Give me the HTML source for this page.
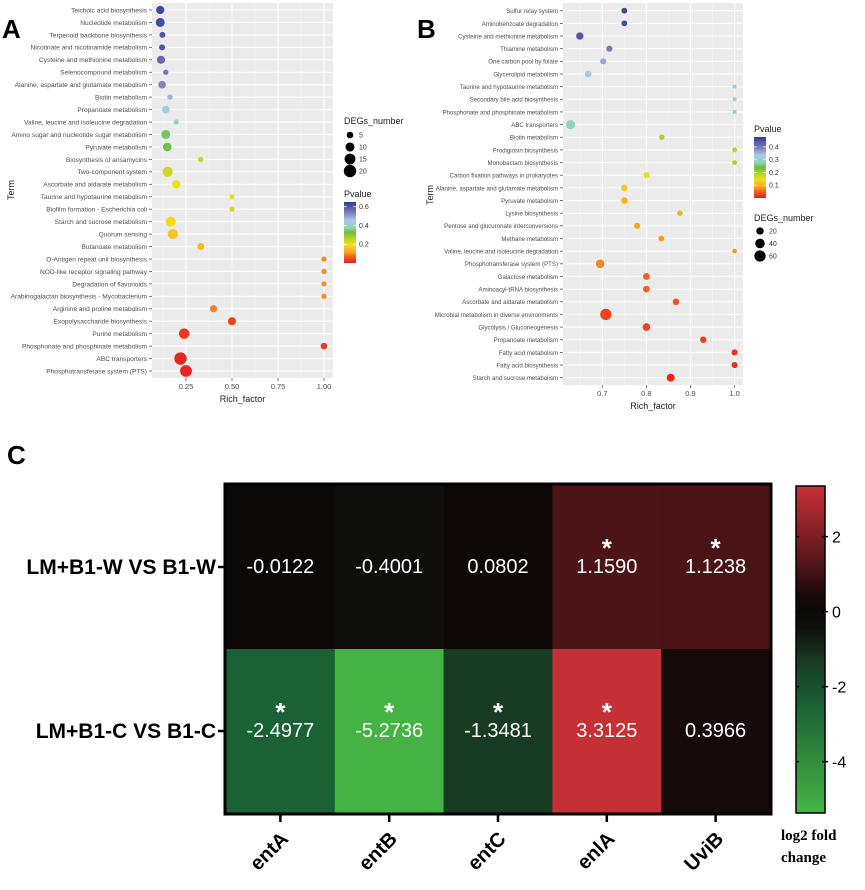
<!DOCTYPE html>
<html><head><meta charset="utf-8">
<style>
html,body{margin:0;padding:0;background:#fff;}
svg{display:block;font-family:"Liberation Sans",Arial,sans-serif;}
</style></head>
<body>
<svg id="fig" width="865" height="890" viewBox="0 0 865 890">
<text x="2" y="38" font-size="26" font-weight="bold">A</text>
<text x="417" y="38" font-size="26" font-weight="bold">B</text>
<text x="7" y="464" font-size="26" font-weight="bold">C</text>
<g id="pa"></g>
<g id="pb"></g>
<g id="pc"></g>
</svg>
<script>
const termsA=["Teichoic acid biosynthesis","Nucleotide metabolism","Terpenoid backbone biosynthesis","Nicotinate and nicotinamide metabolism","Cysteine and methionine metabolism","Selenocompound metabolism","Alanine, aspartate and glutamate metabolism","Biotin metabolism","Propanoate metabolism","Valine, leucine and isoleucine degradation","Amino sugar and nucleotide sugar metabolism","Pyruvate metabolism","Biosynthesis of ansamycins","Two-component system","Ascorbate and aldarate metabolism","Taurine and hypotaurine metabolism","Biofilm formation - Escherichia coli","Starch and sucrose metabolism","Quorum sensing","Butanoate metabolism","O-Antigen repeat unit biosynthesis","NOD-like receptor signaling pathway","Degradation of flavonoids","Arabinogalactan biosynthesis - Mycobacterium","Arginine and proline metabolism","Exopolysaccharide biosynthesis","Purine metabolism","Phosphonate and phosphinate metabolism","ABC transporters","Phosphotransferase system (PTS)"];
const richA=[0.11,0.11,0.122,0.12,0.114,0.14,0.12,0.163,0.14,0.197,0.14,0.148,0.33,0.15,0.197,0.5,0.5,0.167,0.178,0.33,1,1,1,1,0.4,0.5,0.24,1,0.22,0.25];
const pA=[0.63,0.62,0.6,0.6,0.57,0.55,0.53,0.48,0.44,0.38,0.34,0.33,0.24,0.23,0.2,0.2,0.22,0.19,0.16,0.15,0.1,0.1,0.1,0.1,0.09,0.04,0.03,0.03,0.01,0.01];
const degA=[8,10,4,4,8,3,7,3,7,3,10,9,3,13,9,3,3,13,13,6,3,3,3,3,6,8,14,5,20,18];
const ticksA=[0.25,0.5,0.75,1.0];
const tickLabA=["0.25","0.50","0.75","1.00"];
const pLegA=[0.6,0.4,0.2];
const sizeLegA=[5,10,15,20];

const termsB=["Sulfur relay system","Aminobenzoate degradation","Cysteine and methionine metabolism","Thiamine metabolism","One carbon pool by folate","Glycerolipid metabolism","Taurine and hypotaurine metabolism","Secondary bile acid biosynthesis","Phosphonate and phosphinate metabolism","ABC transporters","Biotin metabolism","Prodigiosin biosynthesis","Monobactam biosynthesis","Carbon fixation pathways in prokaryotes","Alanine, aspartate and glutamate metabolism","Pyruvate metabolism","Lysine biosynthesis","Pentose and glucuronate interconversions","Methane metabolism","Valine, leucine and isoleucine degradation","Phosphotransferase system (PTS)","Galactose metabolism","Aminoacyl-tRNA biosynthesis","Ascorbate and aldarate metabolism","Microbial metabolism in diverse environments","Glycolysis / Gluconeogenesis","Propanoate metabolism","Fatty acid metabolism","Fatty acid biosynthesis","Starch and sucrose metabolism"];
const richB=[0.75,0.75,0.649,0.716,0.702,0.668,1,1,1,0.628,0.835,1,1,0.8,0.75,0.75,0.876,0.779,0.834,1,0.695,0.8,0.8,0.867,0.708,0.8,0.929,1,1,0.855];
const pB=[0.46,0.46,0.44,0.4,0.36,0.33,0.33,0.32,0.3,0.28,0.2,0.19,0.19,0.15,0.12,0.1,0.1,0.09,0.08,0.08,0.07,0.05,0.05,0.04,0.03,0.03,0.025,0.015,0.015,0.01];
const degB=[10,10,20,12,12,15,3,3,3,35,8,6,6,12,14,15,9,12,10,5,30,16,16,14,60,22,14,12,12,25];
const ticksB=[0.7,0.8,0.9,1.0];
const tickLabB=["0.7","0.8","0.9","1.0"];
const pLegB=[0.4,0.3,0.2,0.1];
const sizeLegB=[20,40,60];

const genes=["entA","entB","entC","enlA","UviB"];
const comps=["LM+B1-W VS B1-W","LM+B1-C VS B1-C"];
const fcW=[-0.0122,-0.4001,0.0802,1.1590,1.1238];
const fcC=[-2.4977,-5.2736,-1.3481,3.3125,0.3966];
const sigW=[false,false,false,true,true];
const sigC=[true,true,true,true,false];
const cbTicks=[2,0,-2,-4];

const NS="http://www.w3.org/2000/svg";
function mk(tag,attrs,parent,txt){const e=document.createElementNS(NS,tag);for(const k in attrs)e.setAttribute(k,attrs[k]);if(txt!==undefined)e.textContent=txt;parent.appendChild(e);return e;}
function hex(c){return [parseInt(c.substr(1,2),16),parseInt(c.substr(3,2),16),parseInt(c.substr(5,2),16)];}
function interp(stops,t){if(t<=stops[0][0])return stops[0][1];for(let i=1;i<stops.length;i++){if(t<=stops[i][0]){const a=stops[i-1],b=stops[i];const f=(t-a[0])/(b[0]-a[0]);const A=hex(a[1]),B=hex(b[1]);return "rgb("+A.map((v,j)=>Math.round(v+(B[j]-v)*f)).join(",")+")";}}return stops[stops.length-1][1];}
const pStops=[[0,"#e3201c"],[0.08,"#ec4f1e"],[0.18,"#f4a424"],[0.3,"#f2e01c"],[0.42,"#a8cf2c"],[0.5,"#6cbd3c"],[0.58,"#8ed6b4"],[0.7,"#a9c8e8"],[0.84,"#7b74b8"],[1,"#2c3d94"]];

function dotPanel(g,o){
  const {terms,rich,p,deg,L,R,T,B,y0,y1,xv,ticks,tickLab,pmax,rfun,fs,labX,cbX,cbT,cbB,pLeg,sizeLeg,degTitleY,degY0,degDy,termX,termY,name}=o;
  mk('rect',{x:L,y:T,width:R-L,height:B-T,fill:'#ebebeb'},g);
  const step=(y1-y0)/(terms.length-1);
  const yOf=i=>y0+i*step;
  for(let i=0;i<ticks.length-1;i++){const x=(xv(ticks[i])+xv(ticks[i+1]))/2;mk('line',{x1:x,x2:x,y1:T,y2:B,stroke:'#f6f6f6','stroke-width':0.6},g);}
  const xm=xv(ticks[0])-(xv(ticks[1])-xv(ticks[0]))/2; if(xm>L) mk('line',{x1:xm,x2:xm,y1:T,y2:B,stroke:'#f6f6f6','stroke-width':0.6},g);
  ticks.forEach((t,i)=>{const x=xv(t);mk('line',{x1:x,x2:x,y1:T,y2:B,stroke:'#fff','stroke-width':1.1},g);
    mk('line',{x1:x,x2:x,y1:B,y2:B+3,stroke:'#555','stroke-width':0.8},g);
    const tl=mk('text',{x:x,y:B+11,'font-size':7.5,fill:'#4d4d4d','text-anchor':'middle'},g,tickLab[i]);
    
    });
  terms.forEach((t,i)=>{const y=yOf(i);
    mk('line',{x1:L,x2:R,y1:y,y2:y,stroke:'#fff','stroke-width':1.1},g);
    mk('line',{x1:L-3,x2:L,y1:y,y2:y,stroke:'#555','stroke-width':0.8},g);
    const tx=mk('text',{x:labX,y:y+2.4,'font-size':fs,fill:'#4d4d4d','text-anchor':'end'},g,t);
    
    });
  terms.forEach((t,i)=>{const c=mk('circle',{cx:xv(rich[i]),cy:yOf(i),r:rfun(deg[i]),fill:interp(pStops,Math.min(1,p[i]/pmax))},g);
    
    });
  const xt=mk('text',{x:(L+R)/2,y:B+24,'font-size':9,fill:'#222','text-anchor':'middle'},g,'Rich_factor');
  
  
  const yt=mk('text',{x:termX,y:termY,'font-size':9,fill:'#222','text-anchor':'middle',transform:`rotate(-90 ${termX} ${termY})`},g,'Term');
  
  
  const gid='grad'+name;
  const defs=mk('defs',{},g);const lg=mk('linearGradient',{id:gid,x1:0,y1:1,x2:0,y2:0},defs);
  pStops.forEach(s=>mk('stop',{offset:s[0],'stop-color':s[1]},lg));
  const pt=mk('text',{x:cbX,y:cbT-5,'font-size':9,fill:'#222'},g,'Pvalue');
  
  
  const cb=mk('rect',{x:cbX,y:cbT,width:12,height:cbB-cbT,fill:`url(#${gid})`},g);
  
  
  pLeg.forEach(v=>{const y=cbB-(v/pmax)*(cbB-cbT);
    mk('line',{x1:cbX,x2:cbX+2.5,y1:y,y2:y,stroke:'#fff','stroke-width':0.8},g);mk('line',{x1:cbX+9.5,x2:cbX+12,y1:y,y2:y,stroke:'#fff','stroke-width':0.8},g);
    const tl=mk('text',{x:cbX+15,y:y+2.5,'font-size':7,fill:'#333'},g,String(v));
    
    });
  const dt=mk('text',{x:cbX,y:degTitleY,'font-size':9,fill:'#222'},g,'DEGs_number');
  
  
  sizeLeg.forEach((n,i)=>{const y=degY0+i*degDy;
    const c=mk('circle',{cx:cbX+6,cy:y,r:rfun(n),fill:'#000'},g);
    
    
    const tl=mk('text',{x:cbX+15,y:y+2.5,'font-size':7,fill:'#333'},g,String(n));
    
    });
}

dotPanel(document.getElementById('pa'),{terms:termsA,rich:richA,p:pA,deg:degA,L:152,R:333,T:3,B:378,y0:10,y1:371,
  xv:v=>232+(v-0.5)*184,ticks:ticksA,tickLab:tickLabA,pmax:0.65,rfun:n=>1.3*Math.sqrt(n)+0.4,fs:6.6,labX:147,
  cbX:344,cbT:202,cbB:263,pLeg:pLegA,sizeLeg:sizeLegA,degTitleY:124,degY0:135,degDy:12,termX:14,termY:190,name:'A'});
dotPanel(document.getElementById('pb'),{terms:termsB,rich:richB,p:pB,deg:degB,L:563,R:743,T:3,B:385,y0:10.7,y1:377.7,
  xv:v=>602.3+(v-0.7)*441,ticks:ticksB,tickLab:tickLabB,pmax:0.477,rfun:n=>0.6*Math.sqrt(n)+1,fs:6.1,labX:558,
  cbX:754,cbT:137,cbB:198,pLeg:pLegB,sizeLeg:sizeLegB,degTitleY:221,degY0:231,degDy:12.5,termX:433,termY:195,name:'B'});

(function(){
  const g=document.getElementById('pc');
  const L=226,R=770,T=485,B=813,cw=(R-L)/genes.length,rh=(B-T)/comps.length;
  const fcStops=[[-5.3,"#44b443"],[-2.5,"#1b6135"],[-1.3,"#183a22"],[-0.4,"#0e0f0a"],[0,"#0b0807"],[0.4,"#150909"],[1.15,"#4c1417"],[3.3,"#c53037"]];
  const fcCol=v=>interp(fcStops,v);
  const rows=[fcW,fcC],sigs=[sigW,sigC];
  rows.forEach((vals,r)=>{vals.forEach((v,c)=>{
    const x=L+c*cw,y=T+r*rh;
    const cell=mk('rect',{x:x,y:y,width:cw+0.5,height:rh+0.5,fill:fcCol(v)},g);
    
    
    const tv=mk('text',{x:x+cw/2,y:y+rh/2+6,'font-size':20,fill:'#fff','text-anchor':'middle'},g,v.toFixed(4));
    
    
    if(sigs[r][c]){const s=mk('text',{x:x+cw/2,y:y+rh/2-10,'font-size':26,'font-weight':'bold',fill:'#fff','text-anchor':'middle'},g,'*');
      
      }
  });
  const y=T+r*rh+rh/2;
  mk('line',{x1:L-8,x2:L,y1:y,y2:y,stroke:'#000','stroke-width':2.5},g);
  const rl=mk('text',{x:L-10,y:y+7,'font-size':21,'font-weight':'bold','text-anchor':'end'},g,comps[r]);
  
  
  });
  mk('rect',{x:L-1,y:T-1,width:R-L+2,height:B-T+2,fill:'none',stroke:'#000','stroke-width':3},g);
  genes.forEach((gname,c)=>{const x=L+c*cw+cw/2;
    mk('line',{x1:x,x2:x,y1:B+1,y2:B+9,stroke:'#000','stroke-width':2.5},g);
    const tx=x+9,ty=B+27;
    const cl=mk('text',{x:tx,y:ty,'font-size':20,'font-weight':'bold','text-anchor':'end',transform:`rotate(-45 ${tx} ${ty})`},g,gname);
    
    });
  const cx=796,ct=486,cbm=813,vmax=3.35,vmin=-5.37;
  const defs=mk('defs',{},g);const lg=mk('linearGradient',{id:'fcgrad',x1:0,y1:1,x2:0,y2:0},defs);
  fcStops.forEach(s=>mk('stop',{offset:((s[0]-vmin)/(vmax-vmin)).toFixed(3),'stop-color':s[1]},lg));
  const cb=mk('rect',{x:cx,y:ct,width:29,height:cbm-ct,fill:'url(#fcgrad)',stroke:'#000','stroke-width':1.5},g);
  
  
  const yv=v=>cbm-(v-vmin)/(vmax-vmin)*(cbm-ct);
  cbTicks.forEach(v=>{const y=yv(v);
    mk('line',{x1:cx,x2:cx+3,y1:y,y2:y,stroke:'#000','stroke-width':1.5},g);
    mk('line',{x1:cx+26,x2:cx+32,y1:y,y2:y,stroke:'#000','stroke-width':1.5},g);
    const tl=mk('text',{x:cx+36,y:y+6,'font-size':16,fill:'#000'},g,String(v));
    
    });
  const t1=mk('text',{x:781,y:840,'font-size':15,'font-weight':'bold','font-family':'"Liberation Serif",serif'},g,'log2 fold');
  
  
  const t2=mk('text',{x:781,y:862,'font-size':15,'font-weight':'bold','font-family':'"Liberation Serif",serif'},g,'change');
  
  
})();
</script>
</body></html>
